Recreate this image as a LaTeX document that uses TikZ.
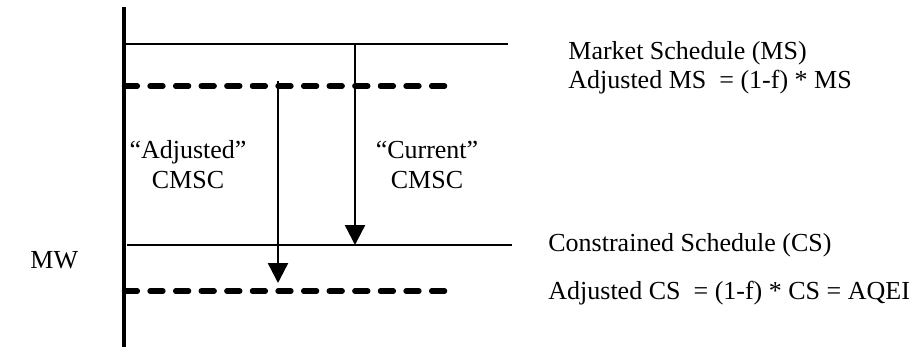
\documentclass[tikz,border=0pt]{standalone}
\usepackage{fontspec}
\setmainfont{Liberation Serif}
\usetikzlibrary{arrows.meta}
\tikzset{
  axisline/.style={line width=2pt},
  schedline/.style={line width=1pt},
  adjline/.style={line width=2.75pt, dash pattern=on 6.4pt off 6.4pt, line cap=round},
  cmscarrow/.style={line width=1.2pt, -{Triangle[length=10pt,width=10pt]}},
  lbl/.style={font=\fontsize{13}{15}\selectfont, inner sep=0pt},
}

\begin{document}
\begin{tikzpicture}[x=0.5pt,y=-0.5pt]
  \useasboundingbox (0,0) rectangle (921,349);
  % axis
  \coordinate (axtop) at (124,7);
  \coordinate (axbot) at (124,347);
  \draw[axisline] (axtop) -- (axbot);
  \node[lbl, anchor=base west] (mw) at (30,268) {MW};

  % schedules
  \coordinate (ms-l) at (124,44);
  \coordinate (ms-r) at (508,44);
  \coordinate (ams-l) at (124.5,86);
  \coordinate (ams-r) at (445,86);
  \coordinate (cs-l) at (127,245);
  \coordinate (cs-r) at (512,245);
  \coordinate (acs-l) at (124.5,291);
  \coordinate (acs-r) at (445,291);
  \draw[schedline] (ms-l) -- (ms-r);
  \draw[adjline] (ams-l) -- (ams-r);
  \draw[schedline] (cs-l) -- (cs-r);
  \draw[adjline] (acs-l) -- (acs-r);

  % cmsc arrows
  \coordinate (cur-top) at (355,43);
  \coordinate (cur-bot) at (355,245);
  \coordinate (adj-top) at (278,81);
  \coordinate (adj-bot) at (278,283);
  \draw[cmscarrow] (cur-top) -- (cur-bot);
  \draw[cmscarrow] (adj-top) -- (adj-bot);
  \node[lbl, anchor=base, align=center] (adjcmsc) at (188,188) {“Adjusted”\\CMSC};
  \node[lbl, anchor=base, align=center] (curcmsc) at (427,188) {“Current”\\CMSC};

  % schedule labels
  \node[lbl, anchor=base west] (mslbl) at (568,59) {Market Schedule (MS)};
  \node[lbl, anchor=base west] (amslbl) at (568,88) {Adjusted MS~~= (1-f) * MS};
  \node[lbl, anchor=base west] (cslbl) at (548,251) {Constrained Schedule (CS)};
  \node[lbl, anchor=base west] (acslbl) at (548,299) {Adjusted CS~~= (1-f) * CS = AQEI};
\end{tikzpicture}
\end{document}
